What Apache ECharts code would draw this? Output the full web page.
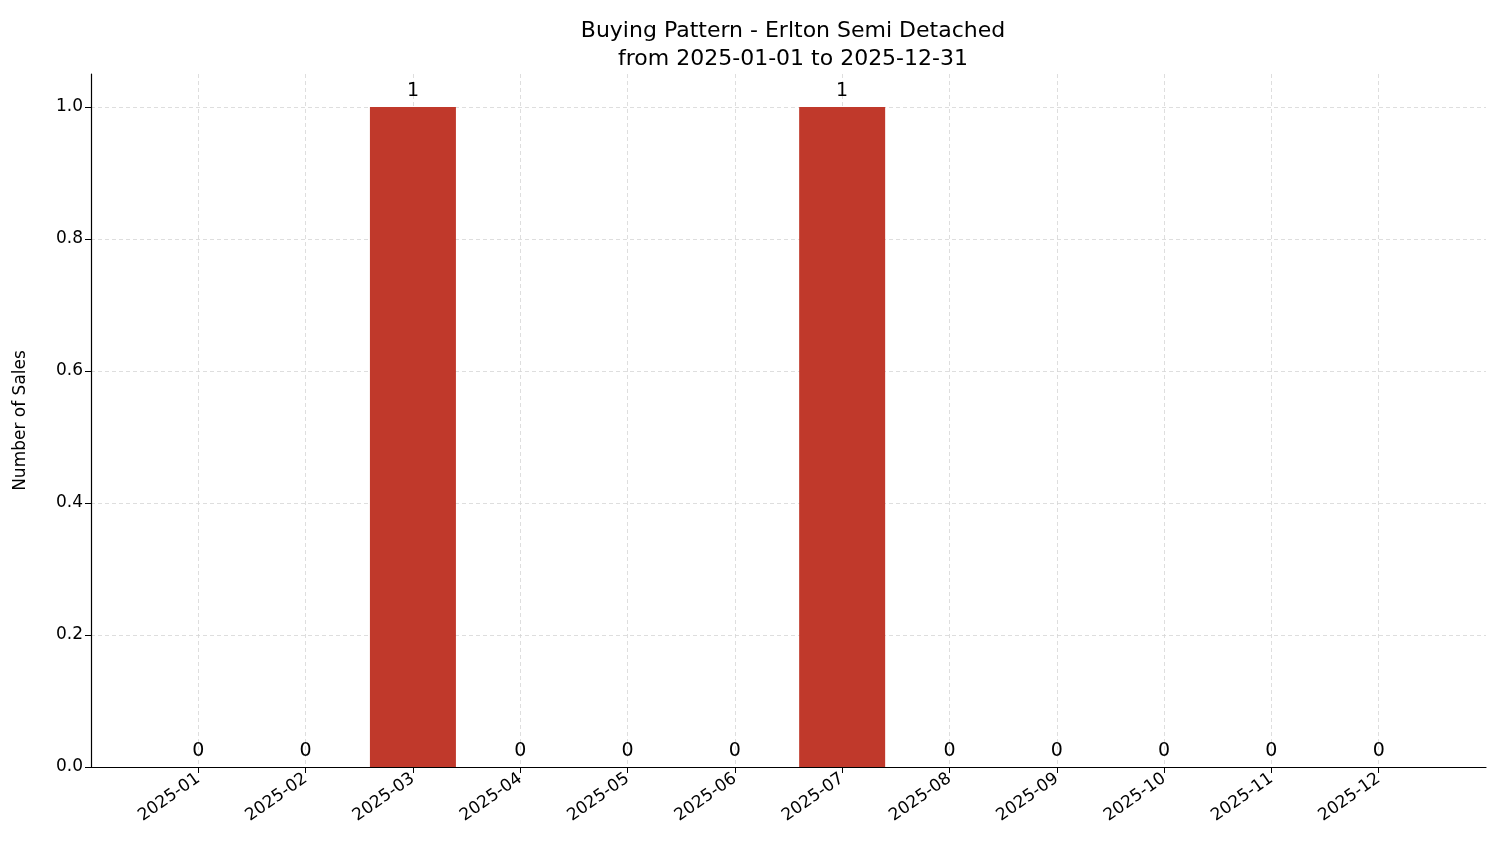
<!DOCTYPE html>
<html>
<head>
<meta charset="utf-8">
<script src="https://cdn.jsdelivr.net/npm/echarts@6/dist/echarts.min.js"></script>
<style>html,body{margin:0;padding:0;background:#fff}#container{width:1501px;height:863px}</style>
</head>
<body>
<div id="container"></div>
<script>
const months = ['2025-01','2025-02','2025-03','2025-04','2025-05','2025-06','2025-07','2025-08','2025-09','2025-10','2025-11','2025-12'];
const sales = [0, 0, 1, 0, 0, 0, 1, 0, 0, 0, 0, 0];
const yTicks = [0, 0.2, 0.4, 0.6, 0.8, 1.0];

// padded categories so the axis runs from -1 to 12 like the original
let cats = [''].concat(months, ['']);
let vals = [null].concat(sales, [null]);

let myChart = echarts.init(document.getElementById('container'));
let font = 'DejaVu Sans';
myChart.setOption({
    animation: false,
    title: {
        text: 'Buying Pattern - Erlton Semi Detached\nfrom 2025-01-01 to 2025-12-31',
        left: 788, top: 12, textAlign: 'center',
        textStyle: {fontFamily: font, fontSize: 22, fontWeight: 'normal', color: '#000', lineHeight: 28}
    },
    grid: {left: 91, right: 15, top: 74, bottom: 96},
    xAxis: {
        type: 'category', data: cats, boundaryGap: false,
        axisLine: {lineStyle: {color: '#000', width: 1.2}},
        axisTick: {length: 6, lineStyle: {color: '#000'}, interval: (i) => i > 0 && i < cats.length - 1},
        axisLabel: {rotate: 35, fontFamily: font, fontSize: 17, color: '#000', margin: 10,
            interval: (i) => i > 0 && i < cats.length - 1},
        splitLine: {show: true, interval: (i) => i > 0 && i < cats.length - 1,
            lineStyle: {type: [4, 3], color: '#d6d6d6', width: 0.8}}
    },
    yAxis: {
        type: 'value', min: 0, max: 1.05, interval: 0.2,
        name: 'Number of Sales', nameLocation: 'middle', nameGap: 62,
        nameTextStyle: {fontFamily: font, fontSize: 17, color: '#000'},
        axisLine: {show: true, lineStyle: {color: '#000', width: 1.2}},
        axisTick: {show: true, length: 6, lineStyle: {color: '#000'}},
        axisLabel: {fontFamily: font, fontSize: 17, color: '#000', showMaxLabel: false,
            formatter: (v) => yTicks.some(t => Math.abs(t - v) < 1e-6) ? v.toFixed(1) : ''},
        splitLine: {show: true, showMaxLine: false, lineStyle: {type: [4, 3], color: '#d6d6d6', width: 0.8}}
    },
    series: [{
        type: 'bar', data: vals, barWidth: 86,
        itemStyle: {color: '#c0392b'},
        label: {show: true, position: 'top', distance: 6, fontFamily: font, fontSize: 19, color: '#000',
            formatter: (p) => p.value == null ? '' : String(p.value)}
    }]
});
</script>
</body>
</html>
